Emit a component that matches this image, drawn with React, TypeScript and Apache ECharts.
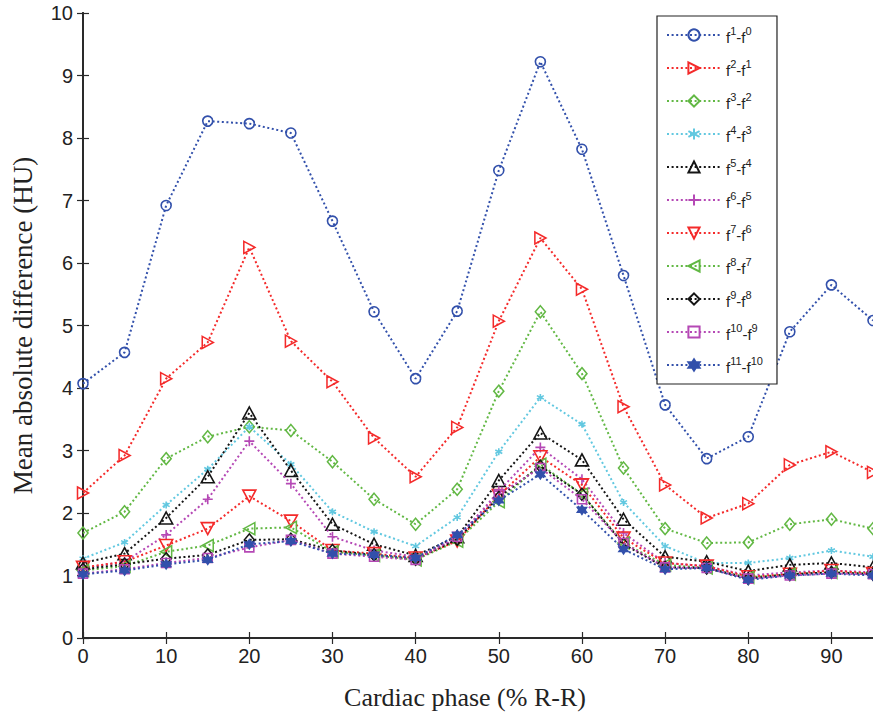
import React, { useEffect, useRef } from 'react';
import * as echarts from 'echarts';

const phases = [0, 5, 10, 15, 20, 25, 30, 35, 40, 45, 50, 55, 60, 65, 70, 75, 80, 85, 90, 95];
const xTicks = [0, 10, 20, 30, 40, 50, 60, 70, 80, 90];
const yTicks = [0, 1, 2, 3, 4, 5, 6, 7, 8, 9, 10];

const seriesNames = ['f1-f0', 'f2-f1', 'f3-f2', 'f4-f3', 'f5-f4', 'f6-f5', 'f7-f6', 'f8-f7', 'f9-f8', 'f10-f9', 'f11-f10'];

const f1f0 = [4.07, 4.57, 6.92, 8.27, 8.23, 8.08, 6.67, 5.22, 4.15, 5.23, 7.48, 9.22, 7.82, 5.80, 3.73, 2.87, 3.22, 4.90, 5.65, 5.08];
const f2f1 = [2.32, 2.92, 4.15, 4.73, 6.25, 4.75, 4.10, 3.20, 2.58, 3.37, 5.07, 6.40, 5.58, 3.70, 2.45, 1.92, 2.15, 2.77, 2.98, 2.65];
const f3f2 = [1.68, 2.02, 2.87, 3.22, 3.38, 3.32, 2.82, 2.22, 1.82, 2.38, 3.95, 5.22, 4.23, 2.72, 1.75, 1.52, 1.53, 1.82, 1.90, 1.75];
const f4f3 = [1.27, 1.53, 2.13, 2.70, 3.38, 2.78, 2.02, 1.70, 1.47, 1.93, 2.98, 3.85, 3.42, 2.17, 1.47, 1.20, 1.20, 1.28, 1.40, 1.30];
const f5f4 = [1.20, 1.35, 1.92, 2.58, 3.60, 2.68, 1.82, 1.50, 1.32, 1.62, 2.52, 3.28, 2.85, 1.90, 1.30, 1.22, 1.07, 1.17, 1.20, 1.13];
const f6f5 = [1.12, 1.22, 1.65, 2.22, 3.15, 2.47, 1.62, 1.40, 1.30, 1.58, 2.35, 3.05, 2.54, 1.68, 1.20, 1.15, 1.00, 1.05, 1.08, 1.05];
const f7f6 = [1.13, 1.22, 1.48, 1.75, 2.27, 1.87, 1.40, 1.35, 1.28, 1.55, 2.28, 2.90, 2.45, 1.60, 1.20, 1.15, 0.98, 1.02, 1.08, 1.03];
const f8f7 = [1.08, 1.15, 1.38, 1.48, 1.75, 1.77, 1.38, 1.32, 1.25, 1.55, 2.18, 2.78, 2.30, 1.52, 1.17, 1.12, 0.97, 1.02, 1.05, 1.03];
const f9f8 = [1.10, 1.18, 1.27, 1.33, 1.57, 1.58, 1.40, 1.33, 1.26, 1.58, 2.25, 2.75, 2.30, 1.50, 1.13, 1.12, 0.95, 1.02, 1.05, 1.02];
const f10f9 = [1.03, 1.10, 1.20, 1.28, 1.45, 1.57, 1.35, 1.30, 1.25, 1.62, 2.30, 2.72, 2.22, 1.52, 1.13, 1.12, 0.95, 1.00, 1.03, 1.02];
const f11f10 = [1.02, 1.08, 1.18, 1.25, 1.50, 1.55, 1.35, 1.33, 1.28, 1.65, 2.20, 2.62, 2.05, 1.42, 1.10, 1.12, 0.93, 1.00, 1.03, 1.00];

const allValues = [f1f0, f2f1, f3f2, f4f3, f5f4, f6f5, f7f6, f8f7, f9f8, f10f9, f11f10];

const BLUE = '#3250ab';
const RED = '#f42a2a';
const GREEN = '#62b844';
const CYAN = '#62c8e0';
const BLACK = '#151515';
const MAGENTA = '#b548b5';

const colors = [BLUE, RED, GREEN, CYAN, BLACK, MAGENTA, RED, GREEN, BLACK, MAGENTA, BLUE];

const SYM_CIRCLE = 'circle';
const SYM_TRI_RIGHT = 'path://M0,0L10,5L0,10Z';
const SYM_DIAMOND = 'path://M5,0L10,6L5,12L0,6Z';
const SYM_ASTERISK = 'path://M5,0L5,10M0.7,2.5L9.3,7.5M0.7,7.5L9.3,2.5';
const SYM_TRI_UP = 'path://M5,0L10,9L0,9Z';
const SYM_PLUS = 'path://M5,0L5,10M0,5L10,5';
const SYM_TRI_DOWN = 'path://M0,0L10,0L5,9Z';
const SYM_TRI_LEFT = 'path://M10,0L0,5L10,10Z';
const SYM_SQUARE = 'path://M0,0L10,0L10,10L0,10Z';
const SYM_STAR = 'path://M0,-10L2.9,-5L8.7,-5L5.8,0L8.7,5L2.9,5L0,10L-2.9,5L-8.7,5L-5.8,0L-8.7,-5L-2.9,-5Z';

const symbols = [SYM_CIRCLE, SYM_TRI_RIGHT, SYM_DIAMOND, SYM_ASTERISK, SYM_TRI_UP, SYM_PLUS, SYM_TRI_DOWN, SYM_TRI_LEFT, SYM_DIAMOND, SYM_SQUARE, SYM_STAR];
const symbolSizes: any[] = [10, [11, 12], [10, 12], 7, [13, 12], 10, [13, 12], [11, 12], [10, 12], 9, 9];
const filled = [false, false, false, false, false, false, false, false, false, false, true];

function legendLabel(name: string) {
  const m = name.match(/^f(\d+)-f(\d+)$/);
  if (!m) return name;
  return `{b|f}{s|${m[1]}}{b|-f}{s|${m[2]}}`;
}

export default function App() {
  const ref = useRef<HTMLDivElement>(null);
  useEffect(() => {
    if (!ref.current) return;
    const chart = echarts.init(ref.current, null, { renderer: 'svg' });
    const series = allValues.map((vals, i) => ({
      name: seriesNames[i],
      type: 'line',
      data: phases.map((p, j) => [p, vals[j]]),
      symbol: symbols[i],
      symbolSize: symbolSizes[i],
      showSymbol: true,
      lineStyle: { color: colors[i], width: 2, type: [2, 2.6] },
      itemStyle: {
        color: filled[i] ? colors[i] : 'none',
        borderColor: colors[i],
        borderWidth: 1.6,
      },
      emphasis: { disabled: true },
      z: 2 + i,
    }));
    const axisLine = { show: true, lineStyle: { color: '#2a2a2a', width: 2 } };
    chart.setOption({
      animation: false,
      backgroundColor: '#ffffff',
      grid: { left: 83, right: 0, top: 13, bottom: 77, containLabel: false, outerBoundsMode: 'none' },
      legend: {
        orient: 'vertical',
        left: 657,
        top: 16,
        itemWidth: 54,
        itemHeight: 14,
        itemGap: 13,
        padding: [9, 14, 9, 9],
        backgroundColor: '#ffffff',
        borderColor: '#222',
        borderWidth: 1.2,
        borderRadius: 0,
        formatter: legendLabel,
        textStyle: {
          fontFamily: 'Liberation Sans',
          fontSize: 15,
          color: '#222',
          rich: {
            b: { fontFamily: 'Liberation Sans', fontSize: 15, lineHeight: 20, color: '#222', verticalAlign: 'bottom' },
            s: { fontFamily: 'Liberation Sans', fontSize: 11, lineHeight: 12, color: '#222', verticalAlign: 'top' },
          },
        },
        data: seriesNames,
      },
      xAxis: [
        {
          type: 'value',
          min: 0,
          max: 95,
          interval: 10,
          name: 'Cardiac phase (% R-R)',
          nameLocation: 'middle',
          nameGap: 46,
          nameTextStyle: { fontFamily: 'Liberation Serif', fontSize: 26, color: '#222', padding: [0, 26, 0, 0] },
          axisLine,
          axisTick: { show: true, inside: true, length: 6, customValues: xTicks, lineStyle: { color: '#2a2a2a', width: 1.2 } },
          axisLabel: { customValues: xTicks, fontFamily: 'Liberation Sans', fontSize: 20, color: '#222', margin: 8 },
          splitLine: { show: false },
        },
        {
          type: 'value',
          position: 'top',
          min: 0,
          max: 95,
          interval: 10,
          axisLine,
          axisTick: { show: true, inside: true, length: 6, customValues: xTicks, lineStyle: { color: '#2a2a2a', width: 1.2 } },
          axisLabel: { show: false },
          splitLine: { show: false },
        },
      ],
      yAxis: [
        {
          type: 'value',
          min: 0,
          max: 10,
          interval: 1,
          name: 'Mean absolute difference (HU)',
          nameLocation: 'middle',
          nameGap: 47,
          nameTextStyle: { fontFamily: 'Liberation Serif', fontSize: 27, color: '#222' },
          axisLine,
          axisTick: { show: true, inside: true, length: 6, customValues: yTicks, lineStyle: { color: '#2a2a2a', width: 1.2 } },
          axisLabel: { customValues: yTicks, fontFamily: 'Liberation Sans', fontSize: 20, color: '#222', margin: 10 },
          splitLine: { show: false },
        },
        {
          type: 'value',
          position: 'right',
          min: 0,
          max: 10,
          interval: 1,
          axisLine,
          axisTick: { show: true, inside: true, length: 6, lineStyle: { color: '#2a2a2a', width: 1.2 } },
          axisLabel: { show: false },
          splitLine: { show: false },
        },
      ],
      series,
    });
    return () => chart.dispose();
  }, []);
  return <div ref={ref} style={{ width: 873, height: 715, position: 'absolute', left: 0, top: 0 }} />;
}
